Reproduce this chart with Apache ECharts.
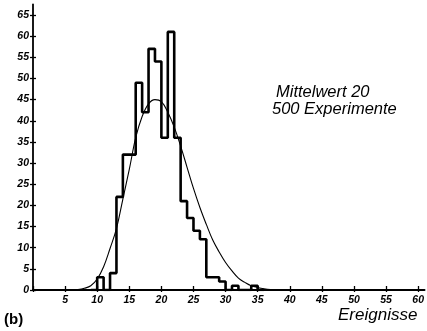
<!DOCTYPE html>
<html>
<head>
<meta charset="utf-8">
<script src="https://cdn.jsdelivr.net/npm/echarts@6/dist/echarts.min.js"></script>
<style>
html,body{margin:0;padding:0;background:#fff;}
#chart{width:427px;height:331px;}
</style>
</head>
<body>
<div id="chart"></div>
<script>
// Histogram: bin start (Ereignisse) and counts per bin
var binStarts = [10,11,12,13,14,15,16,17,18,19,20,21,22,23,24,25,26,27,28,29,30,31,32,33,34];
var binCounts = [3, 0, 4, 22,32,32,49,42,57,54,36,61,36,21,17,14,12,3, 3, 2, 0, 1, 0, 0, 1];
// Theoretical curve
var curveX = [5,6,7,8,9,10,11,12,13,14,15,16,17,18,19,20,21,22,23,24,25,26,27,28,29,30,31,32,33,34,35,36,37,38];
var curveY = [0,0,0.1,0.4,1.0,2.6,5.5,9.8,14.5,21.5,28.5,36,41,44,45,44.5,42,38.5,34,29,24,19.5,15.5,11.8,9,6.5,4.5,2.8,1.8,1.0,0.6,0.3,0.1,0];
// Axis ticks
var xTicks = [0,5,10,15,20,25,30,35,40,45,50,55,60];
var yTicks = [0,5,10,15,20,25,30,35,40,45,50,55,60,65];
var xLabelTicks = [5,10,15,20,25,30,35,40,45,50,55,60];

var histData = [[binStarts[0]-1, 0]];
for (var i = 0; i < binStarts.length; i++) histData.push([binStarts[i], binCounts[i]]);
histData.push([binStarts[binStarts.length-1]+1, 0]);
histData.push([binStarts[binStarts.length-1]+2, 0]);

var curveData = curveX.map(function(x,i){return [x, curveY[i]];});

var labelFont = {fontFamily:'Liberation Sans', fontWeight:'bold', fontStyle:'italic', fontSize:10.5, color:'#000'};

var chart = echarts.init(document.getElementById('chart'), null, {renderer:'canvas'});
var axisLine = {show:true, lineStyle:{color:'#000', width:1.8}};
chart.setOption({
  animation:false,
  backgroundColor:'#fff',
  grid:{left:33, right:0.55, top:4.4, bottom:41, containLabel:false},
  xAxis:[{
    type:'value', min:0, max:61, interval:5,
    axisLine:axisLine,
    splitLine:{show:false},
    axisTick:{show:true, inside:true, length:4, customValues:xTicks, lineStyle:{color:'#000', width:1.3}},
    axisLabel:Object.assign({margin:5, customValues:xLabelTicks}, labelFont)
  },{
    type:'value', min:0, max:61, interval:5, position:'bottom',
    axisLine:{show:false}, splitLine:{show:false},
    axisTick:{show:true, inside:false, length:2, customValues:xTicks, lineStyle:{color:'#000', width:1.3}},
    axisLabel:{show:false}
  }],
  yAxis:[{
    type:'value', min:0, max:67.5, interval:5,
    axisLine:axisLine,
    splitLine:{show:false},
    axisTick:{show:true, inside:false, length:3, customValues:yTicks, lineStyle:{color:'#000', width:1.3}},
    axisLabel:Object.assign({margin:4, customValues:yTicks}, labelFont)
  },{
    type:'value', min:0, max:67.5, interval:5, position:'left',
    axisLine:{show:false}, splitLine:{show:false},
    axisTick:{show:true, inside:true, length:3, customValues:yTicks, lineStyle:{color:'#000', width:1.3}},
    axisLabel:{show:false}
  }],
  series:[{
    type:'line', data:histData, step:'end', symbol:'none',
    lineStyle:{color:'#000', width:2.6}, z:3
  },{
    type:'line', data:curveData, smooth:0.4, symbol:'none',
    lineStyle:{color:'#000', width:1.1}, z:4
  }],
  graphic:[
    {type:'text', left:276, top:84, style:{text:'Mittelwert 20', font:'italic 16.5px "Liberation Sans"', fill:'#000'}},
    {type:'text', left:272, top:101, style:{text:'500 Experimente', font:'italic 16.5px "Liberation Sans"', fill:'#000'}},
    {type:'text', left:338, top:307, style:{text:'Ereignisse', font:'italic 17px "Liberation Sans"', fill:'#000'}},
    {type:'text', left:4, top:312, style:{text:'(b)', font:'bold 15px "Liberation Sans"', fill:'#000'}}
  ]
});
</script>
</body>
</html>
